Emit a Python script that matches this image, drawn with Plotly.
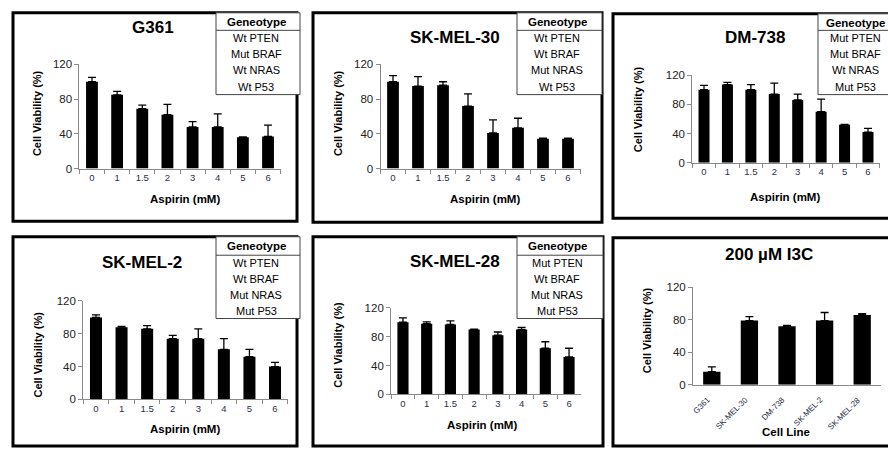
import plotly.graph_objects as go

W, H = 888, 454

# ---------------- data ----------------
doses = ["0", "1", "1.5", "2", "3", "4", "5", "6"]
g361 = [100, 85, 69, 62, 48, 48, 36, 37]
g361_err = [5, 4, 4, 12, 6, 15, 0.5, 13]
skmel30 = [100, 95, 96, 72, 41, 47, 34.5, 34.5]
skmel30_err = [7, 11, 4, 14, 15, 11, 0.5, 0.5]
dm738 = [100, 107, 100, 94, 86, 70, 52, 42]
dm738_err = [6, 3, 7, 15, 8, 17, 0.5, 5]
skmel2 = [100, 88, 86, 74, 74, 61, 52, 40]
skmel2_err = [3, 1, 4, 4, 12, 13, 9, 5]
skmel28 = [100, 98, 97, 90, 82, 90, 64, 52]
skmel28_err = [6, 2.5, 5, 0.5, 4.5, 3, 9, 12]
cell_lines = ["G361", "SK-MEL-30", "DM-738", "SK-MEL-2", "SK-MEL-28"]
i3c = [16, 79, 72, 79, 86]
i3c_err = [6, 5, 1, 10, 1.5]
yticks = [0, 40, 80, 120]

geno_g361 = ["Wt PTEN", "Mut BRAF", "Wt NRAS", "Wt P53"]
geno_skmel30 = ["Wt PTEN", "Wt BRAF", "Mut NRAS", "Wt P53"]
geno_dm738 = ["Mut PTEN", "Mut BRAF", "Wt NRAS", "Mut P53"]
geno_skmel2 = ["Wt PTEN", "Wt BRAF", "Mut NRAS", "Mut P53"]
geno_skmel28 = ["Mut PTEN", "Wt BRAF", "Mut NRAS", "Mut P53"]

# ---------------- layout (pixels) ----------------
def px(x):
    return x / W

def py(y):
    return 1 - y / H

FONT = "Liberation Sans, Arial, sans-serif"

panels = [
    dict(title="G361", cats=doses, vals=g361, err=g361_err, geno=geno_g361,
         xd=(79.4, 280.6), yd=(60, 167), frame=(13, 7, 297, 221),
         t_xy=(153, 22), yt_xy=(37, 110), xt="Aspirin (mM)", xt_xy=(185, 198),
         table=(216, 7, 300, 91, 25), tcx=256),
    dict(title="SK-MEL-30", cats=doses, vals=skmel30, err=skmel30_err, geno=geno_skmel30,
         xd=(380.5, 580.5), yd=(60, 167), frame=(313, 7, 602, 222),
         t_xy=(455, 32), yt_xy=(338, 110), xt="Aspirin (mM)", xt_xy=(485, 198),
         table=(517, 7, 602, 91, 25), tcx=557),
    dict(title="DM-738", cats=doses, vals=dm738, err=dm738_err, geno=geno_dm738,
         xd=(692.3, 879.7), yd=(71, 161), frame=(613, 8, 905, 218),
         t_xy=(755, 32), yt_xy=(638, 106), xt="Aspirin (mM)", xt_xy=(785, 196),
         table=(818, 8, 905, 91, 25), tcx=855),
    dict(title="SK-MEL-2", cats=doses, vals=skmel2, err=skmel2_err, geno=geno_skmel2,
         xd=(83.2, 287.8), yd=(303, 404), frame=(13, 237, 297, 452),
         t_xy=(142, 263), yt_xy=(38, 358), xt="Aspirin (mM)", xt_xy=(185, 434),
         table=(216, 237, 300, 321, 256), tcx=256),
    dict(title="SK-MEL-28", cats=doses, vals=skmel28, err=skmel28_err, geno=geno_skmel28,
         xd=(391.1, 580.9), yd=(310, 399), frame=(313, 237, 603, 452),
         t_xy=(455, 262), yt_xy=(338, 348), xt="Aspirin (mM)", xt_xy=(482, 430),
         table=(517, 237, 603, 321, 256), tcx=557),
    dict(title="200 µM I3C", cats=cell_lines, vals=i3c, err=i3c_err, geno=None,
         xd=(693, 881), yd=(289, 389), frame=(613, 238, 905, 452),
         t_xy=(769, 255), yt_xy=(647, 333), xt="Cell Line", xt_xy=(786, 438),
         table=None, tcx=None),
]

fig = go.Figure()
shapes = []
annotations = []
layout = dict(
    width=W, height=H, margin=dict(l=0, r=0, t=0, b=0),
    paper_bgcolor="white", plot_bgcolor="white", showlegend=False,
    font=dict(family=FONT, color="black"),
    bargap=0.53,
)

for i, p in enumerate(panels, start=1):
    xa = "x" if i == 1 else f"x{i}"
    ya = "y" if i == 1 else f"y{i}"
    fig.add_trace(go.Bar(
        x=p["cats"], y=p["vals"], xaxis=xa, yaxis=ya,
        marker=dict(color="black", line=dict(width=0)),
        width=0.47 if p["geno"] else 0.46,
        error_y=dict(type="data", array=p["err"], arrayminus=[0] * len(p["err"]),
                     symmetric=False, color="black", thickness=1.3, width=4),
        cliponaxis=False,
    ))
    x0, x1 = p["xd"]
    y0, y1 = p["yd"]
    is_rot = p["geno"] is None
    xax = dict(
        domain=[px(x0), px(x1)], anchor=ya, type="category",
        range=[-0.5, len(p["cats"]) - 0.5],
        showline=True, linecolor="#8a8a8a", linewidth=1,
        ticks="outside", ticklen=4, tickcolor="#8a8a8a",
        showgrid=False, zeroline=False, fixedrange=True,
        tickfont=dict(size=9.5, color="#2a2f45", family=FONT),
    )
    if is_rot:
        xax.update(showticklabels=False, ticks="")
        # rotated category labels
        for c in p["cats"]:
            annotations.append(dict(xref=xa, yref="paper", x=c, y=py(y1 + 8),
                                    xshift=3,
                                    text=c, showarrow=False, textangle=-45,
                                    xanchor="right", yanchor="top",
                                    font=dict(size=8, family=FONT, color="#2a2f45")))
    else:
        xax.update(tickson="boundaries")
    layout["xaxis" if i == 1 else f"xaxis{i}"] = xax
    layout["yaxis" if i == 1 else f"yaxis{i}"] = dict(
        domain=[py(y1), py(y0)], anchor=xa, range=[0, 120],
        tickvals=yticks, ticktext=[str(v) for v in yticks],
        showline=True, linecolor="#8a8a8a", linewidth=1,
        ticks="outside", ticklen=4, tickcolor="#8a8a8a",
        showgrid=False, zeroline=False, fixedrange=True,
        tickfont=dict(size=11.5, color="#222", family=FONT),
    )
    # frame
    fx0, fy0, fx1, fy1 = p["frame"]
    shapes.append(dict(type="rect", xref="paper", yref="paper",
                       x0=px(fx0), x1=px(fx1), y0=py(fy1), y1=py(fy0),
                       line=dict(color="black", width=3), layer="above"))
    # title
    annotations.append(dict(xref="paper", yref="paper", x=px(p["t_xy"][0]), y=py(p["t_xy"][1]),
                            text=f"<b>{p['title']}</b>", showarrow=False,
                            xanchor="center", yanchor="middle",
                            font=dict(size=17, family=FONT, color="black")))
    # y title
    annotations.append(dict(xref="paper", yref="paper", x=px(p["yt_xy"][0]), y=py(p["yt_xy"][1]),
                            text="<b>Cell Viability (%)</b>", showarrow=False, textangle=-90,
                            xanchor="center", yanchor="middle",
                            font=dict(size=11, family=FONT, color="black")))
    # x title
    annotations.append(dict(xref="paper", yref="paper", x=px(p["xt_xy"][0]), y=py(p["xt_xy"][1]),
                            text=f"<b>{p['xt']}</b>", showarrow=False,
                            xanchor="center", yanchor="middle",
                            font=dict(size=11.5, family=FONT, color="black")))
    # genotype table
    if p["table"]:
        tx0, ty0, tx1, ty1, th = p["table"]
        shapes.append(dict(type="rect", xref="paper", yref="paper",
                           x0=px(tx0), x1=px(tx1), y0=py(ty1), y1=py(ty0),
                           line=dict(color="#444", width=1), fillcolor="white", layer="above"))
        shapes.append(dict(type="line", xref="paper", yref="paper",
                           x0=px(tx0), x1=px(tx1), y0=py(th), y1=py(th),
                           line=dict(color="#444", width=1), layer="above"))
        cx = p["tcx"]
        annotations.append(dict(xref="paper", yref="paper", x=px(cx), y=py((ty0 + th) / 2 + 0.5),
                                text="<b>Geneotype</b>", showarrow=False,
                                xanchor="center", yanchor="middle",
                                font=dict(size=11.5, family=FONT, color="black")))
        step = (ty1 - th) / 4
        for k, g in enumerate(p["geno"]):
            annotations.append(dict(xref="paper", yref="paper", x=px(cx),
                                    y=py(th + step * (k + 0.5)),
                                    text=g, showarrow=False,
                                    xanchor="center", yanchor="middle",
                                    font=dict(size=11, family=FONT, color="black")))

layout["shapes"] = shapes
layout["annotations"] = annotations
fig.update_layout(**layout)
fig.write_html("out.html", config={"displayModeBar": False},
               post_script="document.body.style.margin='0';document.body.style.overflow='hidden';")
